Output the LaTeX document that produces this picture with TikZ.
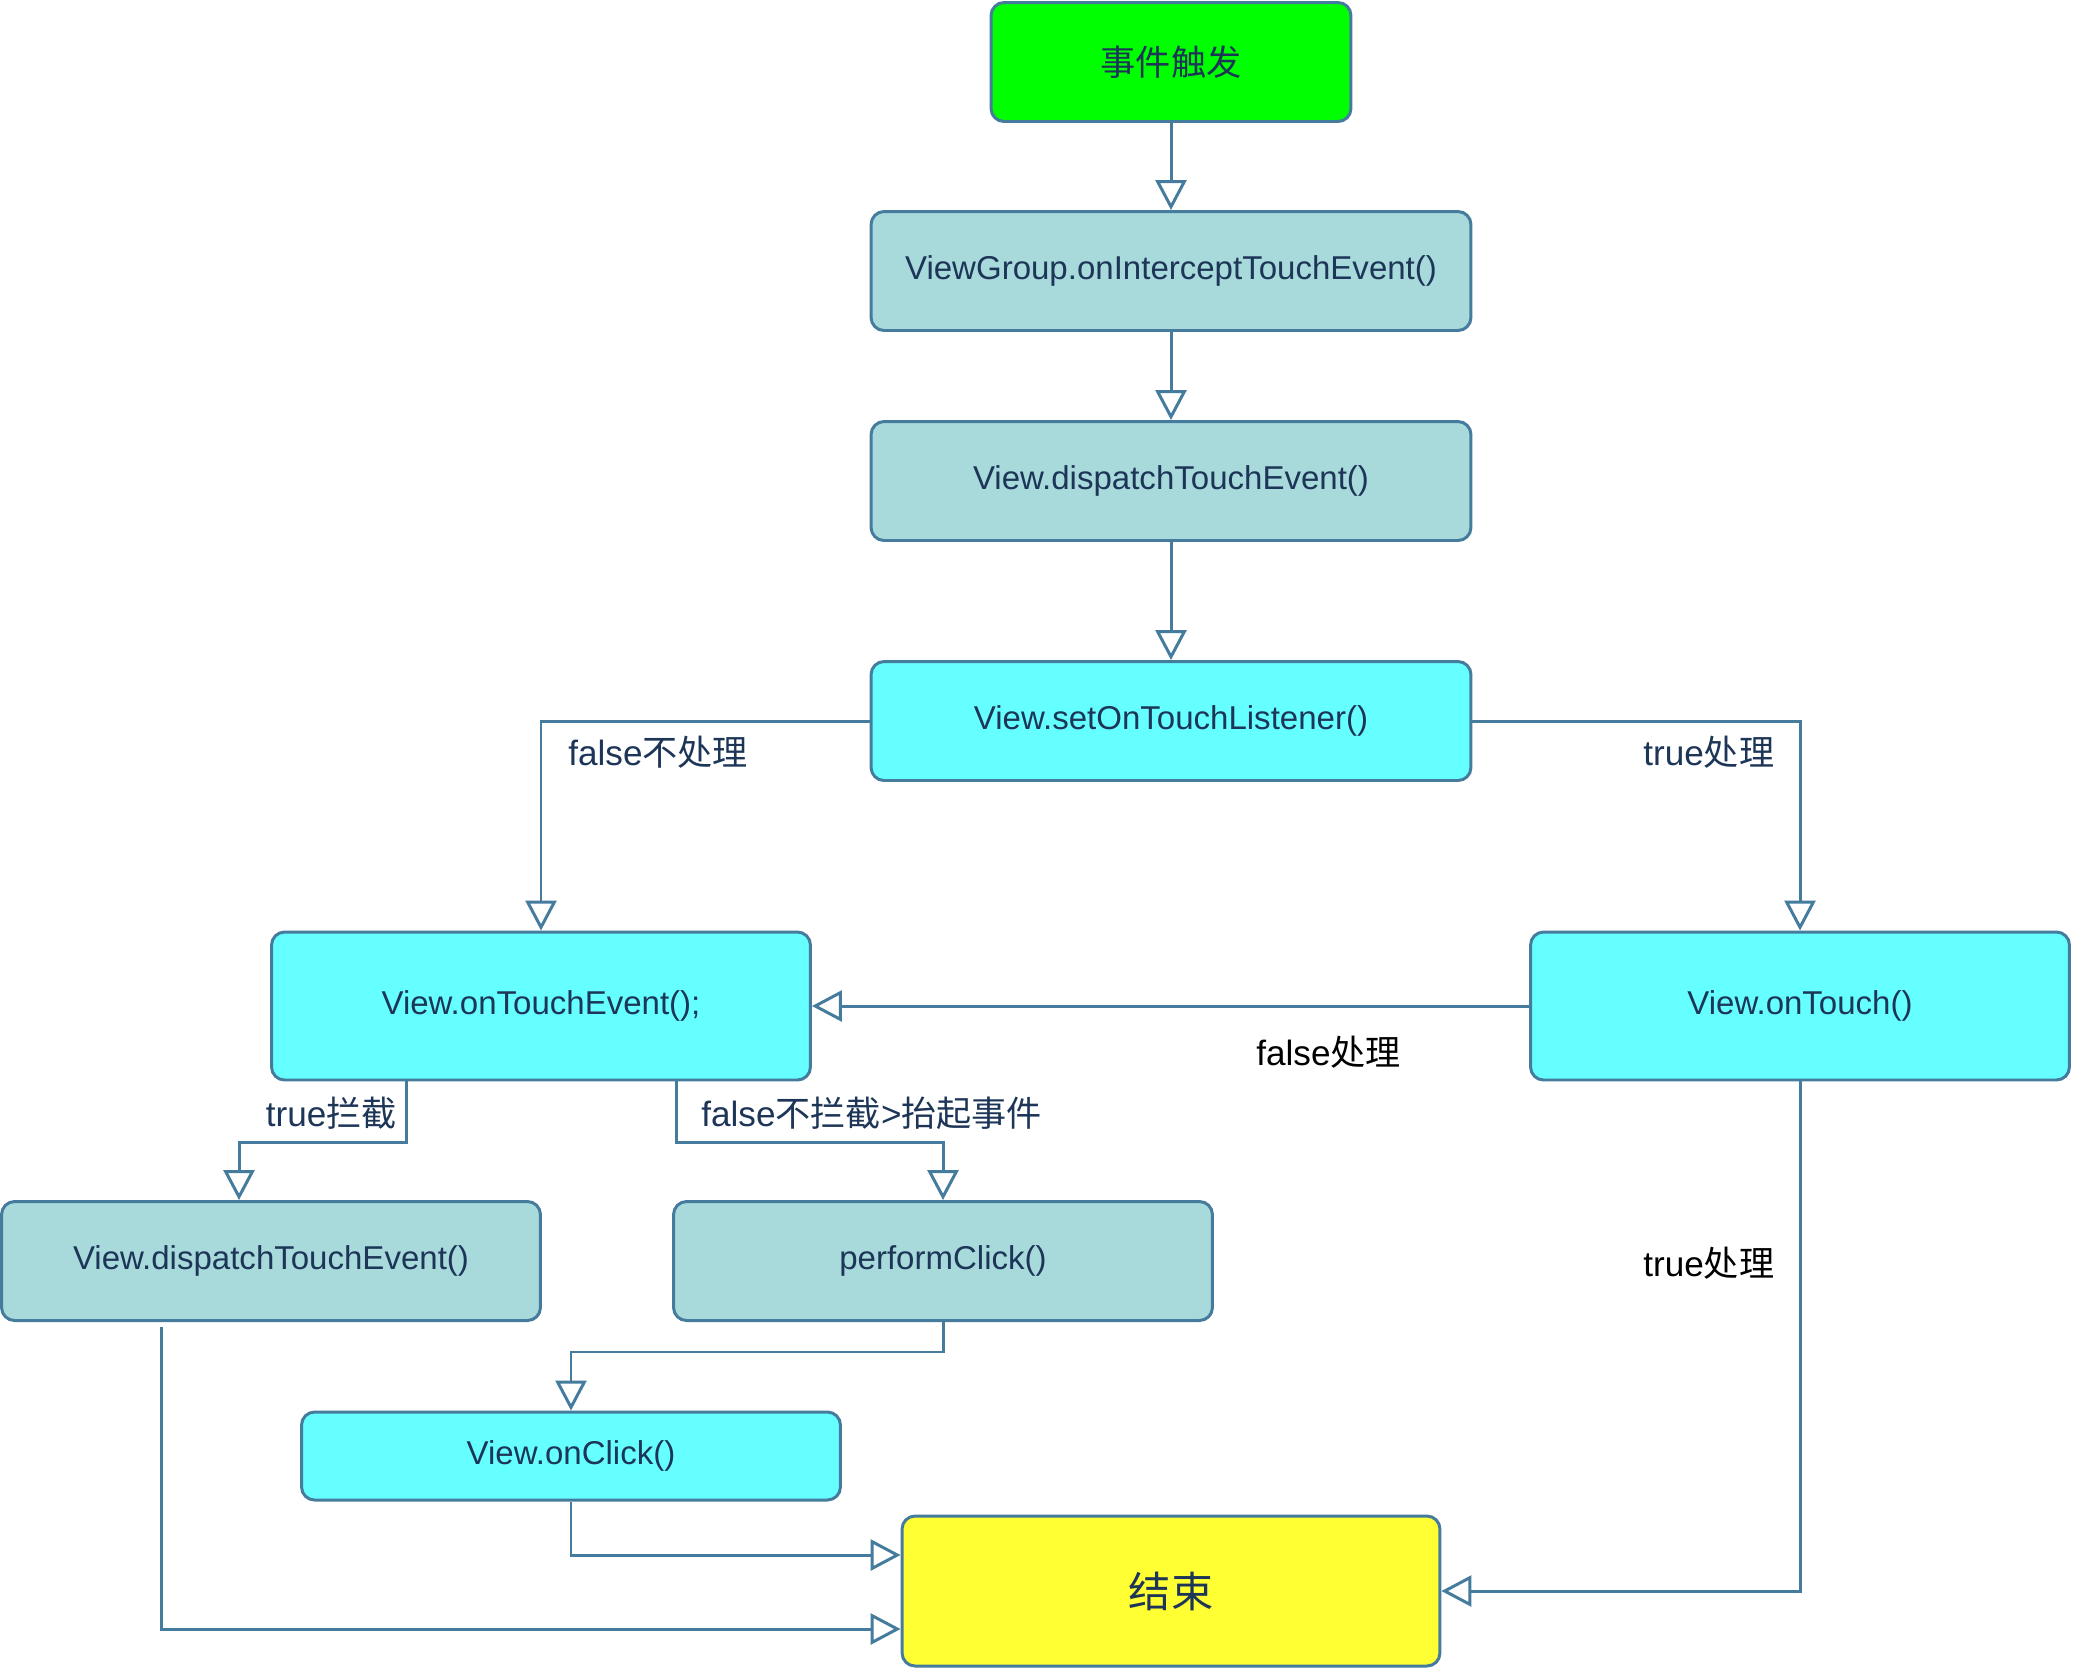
\documentclass[tikz,border=0pt]{standalone}
\usepackage{fontspec}
\setmainfont{Liberation Sans}
\newfontfamily\cjk{Noto Sans CJK SC}
\usetikzlibrary{arrows.meta}
\definecolor{edge}{HTML}{457B9D}
\definecolor{ink}{HTML}{1D3557}
\definecolor{pale}{HTML}{A8DADC}
\definecolor{aqua}{HTML}{66FFFF}
\definecolor{lime}{HTML}{00FF00}
\definecolor{lemon}{HTML}{FFFF33}
\tikzstyle{box} = [draw=edge, line width=1.7pt, rounded corners=0.26cm, text=ink, inner sep=0pt, minimum width=10.78cm, minimum height=2.38cm, font={\fontsize{18.8}{22}\selectfont}]
\tikzstyle{wide} = [box, minimum width=12cm]
\tikzstyle{tall} = [minimum height=2.96cm]
\tikzstyle{flow} = [draw=edge, line width=1.7pt, -{Triangle[fill=white,length=0.6cm,width=0.62cm]}]
\tikzstyle{lbl} = [text=ink, inner sep=0pt, font={\fontsize{20}{24}\selectfont}]

\begin{document}
\begin{tikzpicture}[x=0.02cm, y=-0.02cm]
  \useasboundingbox (0,0) rectangle (2073,1668);
  \node[box,fill=lime,minimum width=7.2cm,font={\fontsize{20}{24}\selectfont\cjk}](start) at (1171,62){事件触发};
  \node[wide,fill=pale](intercept) at (1171,271){ViewGroup.onInterceptTouchEvent()};
  \node[wide,fill=pale](dispatch) at (1171,481){View.dispatchTouchEvent()};
  \node[wide,fill=aqua](listener) at (1171,721){View.setOnTouchListener()};
  \node[box,tall,fill=aqua](touchevent) at (541,1006){View.onTouchEvent();};
  \node[box,tall,fill=aqua](ontouch) at (1800,1006){View.onTouch()};
  \node[box,fill=pale](childdispatch) at (271,1261){View.dispatchTouchEvent()};
  \node[box,fill=pale](click) at (943,1261){performClick()};
  \node[box,fill=aqua,minimum height=1.76cm](onclick) at (571,1456){View.onClick()};
  \node[box,fill=lemon,minimum width=10.76cm,minimum height=3cm,font={\fontsize{24}{28}\selectfont\cjk}](end) at (1171,1591){结束};
  \node[lbl,anchor=west](nohandle) at (568,752){false{\cjk 不处理}};
  \node[lbl,anchor=west](handle) at (1643,752){true{\cjk 处理}};
  \node[lbl,anchor=west,text=black](falsehandle) at (1256,1052){false{\cjk 处理}};
  \node[lbl,anchor=east](intercepted) at (397,1113){true{\cjk 拦截}};
  \node[lbl,anchor=west](notintercepted) at (701,1113){false{\cjk 不拦截}>{\cjk 抬起事件}};
  \node[lbl,anchor=west,text=black](truehandle) at (1643,1263){true{\cjk 处理}};
  \draw[flow](start)--(intercept);
  \draw[flow](intercept)--(dispatch);
  \draw[flow](dispatch)--(listener);
  \draw[flow](listener.west)-|(touchevent.north);
  \draw[flow](listener.east)-|(ontouch.north);
  \draw[flow](ontouch.west)--(touchevent.east);
  \draw[flow]([xshift=-2.7cm]touchevent.south)--++(0,61)-|([xshift=-0.64cm]childdispatch.north);
  \draw[flow]([xshift=2.72cm]touchevent.south)--++(0,61)-|(click.north);
  \draw[flow](click.south)--++(0,30)-|(onclick.north);
  \draw[flow](onclick.south)|-([yshift=0.72cm]end.west);
  \draw[flow]([xshift=-2.2cm,yshift=-0.1cm]childdispatch.south)|-([yshift=-0.76cm]end.west);
  \draw[flow](ontouch.south)|-(end.east);
\end{tikzpicture}
\end{document}
